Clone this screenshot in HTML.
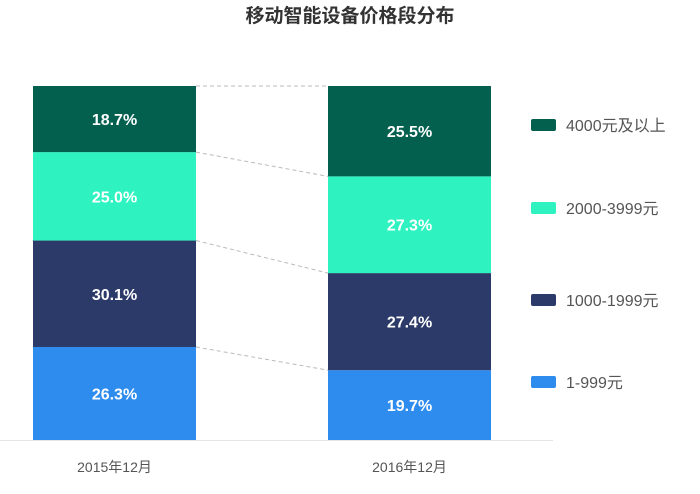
<!DOCTYPE html>
<html><head><meta charset="utf-8">
<style>
html,body{margin:0;padding:0;background:#fff;}
body{width:700px;height:489px;overflow:hidden;font-family:"Liberation Sans","Noto Sans CJK SC",sans-serif;}
</style></head>
<body>
<svg id="chart" width="700" height="489" xmlns="http://www.w3.org/2000/svg" style="font-family:'Liberation Sans','Noto Sans CJK SC',sans-serif">
<text x="350" y="22" text-anchor="middle" font-size="19" font-weight="bold" fill="#333">移动智能设备价格段分布</text>
<line x1="0" y1="440.5" x2="553" y2="440.5" stroke="#e4e4e4" stroke-width="1"/>
<g id="links"></g>
<g id="bars"></g>
<g id="legend"></g>
</svg>
<script>
const categories = ["2015年12月","2016年12月"];
const seriesNames = ["1-999元","1000-1999元","2000-3999元","4000元及以上"];
const s1 = [26.3, 19.7];
const s2 = [30.1, 27.4];
const s3 = [25.0, 27.3];
const s4 = [18.7, 25.5];
const colors = ["#2e8cef","#2c3a69","#2ef3c1","#03604f"];
const series = [s1,s2,s3,s4];
const NS="http://www.w3.org/2000/svg";
const svg=document.getElementById('chart');
const barsG=document.getElementById('bars'), linksG=document.getElementById('links'), legG=document.getElementById('legend');
const top0=86, bottom0=440, barW=163;
const xLeft=[33,328];
function yScale(v,total){return bottom0-(v/total)*(bottom0-top0);}
const bounds=[];
categories.forEach((c,i)=>{
  const total=series.reduce((a,s)=>a+s[i],0);
  let cum=0; const b=[];
  series.forEach((s,k)=>{
    const y1=yScale(cum,total), y0=yScale(cum+s[i],total);
    cum+=s[i];
    const r=document.createElementNS(NS,'rect');
    
    
    r.setAttribute('x',xLeft[i]);r.setAttribute('y',y0);r.setAttribute('width',barW);r.setAttribute('height',y1-y0);r.setAttribute('fill',colors[k]);
    barsG.appendChild(r);
    const t=document.createElementNS(NS,'text');
    
    
    t.setAttribute('x',xLeft[i]+barW/2);t.setAttribute('y',(y0+y1)/2+6);t.setAttribute('text-anchor','middle');
    t.setAttribute('font-size','16');t.setAttribute('font-weight','bold');t.setAttribute('fill','#fff');
    t.textContent=s[i].toFixed(1)+'%';
    barsG.appendChild(t);
    b.push(y0);
  });
  bounds.push(b);
  const lab=document.createElementNS(NS,'text');
  
  
  lab.setAttribute('x',xLeft[i]+barW/2);lab.setAttribute('y',472);lab.setAttribute('text-anchor','middle');
  lab.setAttribute('font-size','14');lab.setAttribute('fill','#555');
  lab.textContent=c;
  svg.appendChild(lab);
});
for(let k=0;k<series.length;k++){
  const l=document.createElementNS(NS,'line');
  
  
  l.setAttribute('x1',xLeft[0]+barW);l.setAttribute('y1',bounds[0][k]);
  l.setAttribute('x2',xLeft[1]);l.setAttribute('y2',bounds[1][k]);
  l.setAttribute('stroke','#bbb');l.setAttribute('stroke-dasharray','4,3');l.setAttribute('stroke-width','1');
  linksG.appendChild(l);
}
const legY=[125,208,300,382];
[3,2,1,0].forEach((k,j)=>{
  const r=document.createElementNS(NS,'rect');
  
  
  r.setAttribute('x',531);r.setAttribute('y',legY[j]-6);r.setAttribute('width',25);r.setAttribute('height',12);r.setAttribute('rx',2);r.setAttribute('fill',colors[k]);
  legG.appendChild(r);
  const t=document.createElementNS(NS,'text');
  
  
  t.setAttribute('x',566);t.setAttribute('y',legY[j]+6);t.setAttribute('font-size','16');t.setAttribute('fill','#555');
  t.textContent=seriesNames[k];
  legG.appendChild(t);
});
</script>
</body></html>
